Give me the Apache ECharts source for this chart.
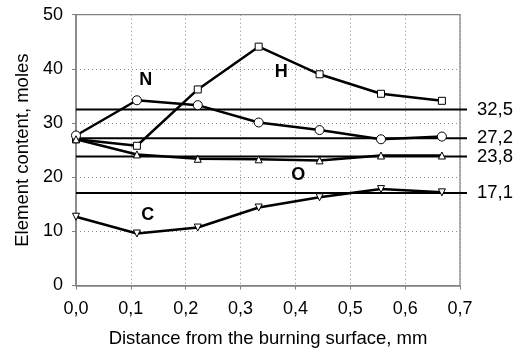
<!DOCTYPE html>
<html>
<head>
<meta charset="utf-8">
<script src="https://cdn.jsdelivr.net/npm/echarts@6/dist/echarts.min.js"></script>
<style>
  html, body { margin: 0; padding: 0; background: #fff; }
  #chart { width: 525px; height: 355px; }
</style>
</head>
<body>
<div id="chart"></div>
<script>
// distance from burning surface, mm
const distances = [0, 0.111, 0.222, 0.333, 0.444, 0.556, 0.667];
// element contents, moles
const hValues = [27.0, 25.8, 36.2, 44.1, 39.0, 35.4, 34.1];
const nValues = [27.7, 34.2, 33.3, 30.1, 28.7, 27.0, 27.5];
const oValues = [27.0, 24.2, 23.4, 23.3, 23.1, 24.0, 24.0];
const cValues = [12.7, 9.6, 10.7, 14.4, 16.3, 17.8, 17.2];
// horizontal reference levels
const refLevels = [32.5, 27.2, 23.8, 17.1];

const fmtComma = (v, d) => v.toFixed(d).replace('.', ',');
const pairs = vals => distances.map((x, i) => [x, vals[i]]);

const chart = echarts.init(document.getElementById('chart'));

const font = 'Liberation Sans, Arial, sans-serif';

function elementSeries(name, vals, symbol, size, rotate, labelAt) {
  return {
    name: name,
    type: 'line',
    data: pairs(vals),
    xAxisIndex: 0,
    yAxisIndex: 0,
    symbol: symbol,
    symbolSize: size,
    symbolRotate: rotate,
    showAllSymbol: true,
    z: 3,
    lineStyle: { color: '#000', width: 2.5 },
    itemStyle: { color: '#fff', borderColor: '#000', borderWidth: 1 },
    markPoint: {
      symbol: 'circle',
      symbolSize: 0,
      data: [{ coord: labelAt, value: name }],
      label: {
        show: true,
        position: 'inside',
        formatter: name,
        color: '#000',
        fontWeight: 'bold',
        fontSize: 18,
        fontFamily: font
      }
    }
  };
}

const option = {
  animation: false,
  grid: [
    { left: 76, right: 65, top: 14.7, bottom: 69.5 },
    { left: 76, right: 58, top: 14.7, bottom: 69.5 }
  ],
  xAxis: [
    {
      type: 'value',
      gridIndex: 0,
      min: 0,
      max: 0.7,
      interval: 0.1,
      name: 'Distance from the burning surface, mm',
      nameLocation: 'middle',
      nameGap: 44,
      nameTextStyle: { color: '#000', fontSize: 18.5, fontFamily: font },
      axisLine: { show: true, lineStyle: { color: '#808080', width: 1.5 } },
      axisTick: { show: true, length: 4, lineStyle: { color: '#808080' } },
      axisLabel: {
        color: '#000',
        fontSize: 18,
        fontFamily: font,
        margin: 15,
        formatter: v => fmtComma(v, 1)
      },
      splitLine: { show: true, lineStyle: { color: '#888', type: [1, 3], width: 1 } }
    },
    {
      type: 'value',
      gridIndex: 1,
      min: 0,
      max: 1,
      show: false
    }
  ],
  yAxis: [
    {
      type: 'value',
      gridIndex: 0,
      min: 0,
      max: 50,
      interval: 10,
      name: 'Element content, moles',
      nameLocation: 'middle',
      nameGap: 44,
      nameTextStyle: { color: '#000', fontSize: 18.5, fontFamily: font },
      axisLine: { show: true, lineStyle: { color: '#808080', width: 1.5 } },
      axisTick: { show: true, length: 4, lineStyle: { color: '#808080' } },
      axisLabel: { color: '#000', fontSize: 18, fontFamily: font, margin: 13 },
      splitLine: { show: true, lineStyle: { color: '#888', type: [1, 3], width: 1 } }
    },
    {
      type: 'value',
      gridIndex: 1,
      min: 0,
      max: 50,
      show: false
    }
  ],
  graphic: [
    {
      type: 'rect',
      shape: { x: 76, y: 14.7, width: 384, height: 270.8 },
      style: { fill: 'none', stroke: '#808080', lineWidth: 1.2 },
      silent: true,
      z: 0
    }
  ],
  series: [
    ...refLevels.map(level => ({
      type: 'line',
      xAxisIndex: 1,
      yAxisIndex: 1,
      data: [[0, level], [1, level]],
      symbol: 'none',
      z: 2,
      lineStyle: { color: '#000', width: 2 },
      endLabel: {
        show: true,
        formatter: fmtComma(level, 1),
        distance: 10,
        color: '#000',
        fontSize: 18.5,
        fontFamily: font
      }
    })),
    elementSeries('H', hValues, 'rect', 7, 0, [0.374, 39.4]),
    elementSeries('N', nValues, 'circle', 9, 0, [0.127, 37.9]),
    elementSeries('O', oValues, 'triangle', 7, 0, [0.405, 20.4]),
    elementSeries('C', cValues, 'triangle', 7, 180, [0.131, 13.0])
  ]
};

chart.setOption(option);
</script>
</body>
</html>
